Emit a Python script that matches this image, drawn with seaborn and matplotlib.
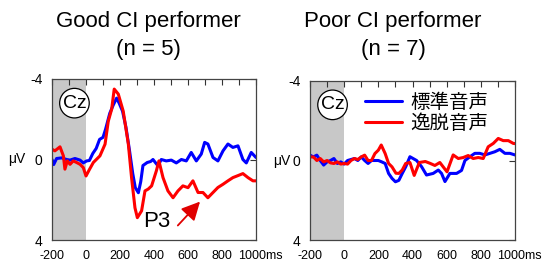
import matplotlib
matplotlib.use("Agg")
import matplotlib.pyplot as plt
import matplotlib.transforms as mtransforms
import pandas as pd
import seaborn as sns

# good CI performer (n = 5)
good_std_t = [-200, -190, -173, -143, -114, -94, -65, -35, -16, 4, 20, 40, 60, 80, 100, 115, 140, 160, 180, 195,
              215, 235, 255, 275, 290, 308, 322, 335, 360, 380, 394, 423, 443, 472, 502, 531, 561, 590, 619, 649,
              678, 698, 717, 747, 776, 806, 835, 864, 894, 923, 943, 972, 1000]
good_std_v = [0, 0.25, -0.05, -0.08, 0, 0.03, -0.05, 0.03, 0.17, 0.07, 0.05, -0.3, -0.55, -1.0, -1.1, -1.5, -2.3, -2.7, -3.05, -2.8,
              -2.4, -1.6, -0.5, 0.7, 1.4, 1.65, 1.1, 0.3, 0.15, 0.1, 0.0, 0.31, 0.0, 0.07, 0.03, 0.17, 0.0, 0.07, -0.35, 0.07,
              -0.27, -0.85, -0.77, -0.1, 0.07, -0.43, -0.77, -0.6, -0.68, 0, 0.17, -0.35, -0.1]
good_dev_t = [-200, -183, -153, -133, -124, -110, -94, -75, -55, -35, -16, 0, 20, 43, 82, 112, 131, 151, 166, 190,
              219, 249, 268, 288, 302, 327, 347, 366, 386, 414, 429, 453, 482, 512, 541, 570, 600, 629, 659, 688,
              717, 747, 776, 806, 835, 864, 894, 923, 953, 982, 1000]
good_dev_v = [-0.51, -0.43, -0.63, -0.18, 0.48, 0.07, 0.24, 0.07, 0.15, 0.24, 0.4, 0.82, 0.5, 0.15, -0.18, -0.76, -1.9, -2.5, -3.5, -3.25,
              -2.4, -0.77, 0.9, 2.4, 2.89, 2.55, 1.56, 1.47, 1.31, 0.56, 0.07, 0.9, 1.56, 1.9, 1.56, 1.31, 1.4, 1.06, 1.64, 1.64,
              1.9, 1.64, 1.39, 1.23, 1.06, 0.9, 0.8, 0.7, 0.9, 1.06, 1.06]

# poor CI performer (n = 7)
poor_std_t = [-200, -180, -160, -140, -120, -100, -80, -60, -40, -20, 0, 20, 40, 60, 80, 100, 120, 140, 160, 180,
              200, 220, 240, 260, 280, 300, 320, 340, 360, 385, 424, 453, 482, 521, 551, 570, 590, 619, 658, 687,
              707, 736, 765, 794, 824, 853, 882, 911, 941, 970, 1000]
poor_std_v = [-0.27, -0.18, -0.27, 0, 0.23, 0.07, 0, -0.1, 0.15, 0.07, 0.18, 0, -0.05, -0.1, 0, -0.18, 0, 0.15, 0, 0,
              0, 0.07, 0.15, 0.65, 0.9, 1.07, 1.0, 0.65, 0.32, -0.19, 0, 0.31, 0.73, 0.65, 0.48, 0.65, 1.06, 0.65, 0.65, 0.5,
              0, -0.19, -0.36, -0.36, -0.28, -0.36, -0.44, -0.56, -0.36, -0.36, -0.28]
poor_dev_t = [-200, -180, -160, -140, -120, -100, -80, -60, -40, -20, 0, 20, 40, 60, 80, 100, 120, 140, 160, 180,
              200, 217, 240, 260, 280, 303, 320, 340, 360, 385, 410, 440, 475, 502, 531, 560, 602, 638, 668, 697,
              726, 755, 785, 814, 843, 873, 902, 931, 961, 990, 1000]
poor_dev_v = [-0.18, -0.18, 0, -0.1, 0.07, 0, 0.12, 0.15, 0.07, 0.18, 0.15, 0.18, 0, -0.1, -0.05, -0.18, -0.27, 0, 0, -0.35,
              -0.52, -0.78, -0.35, 0.15, 0.32, 0.64, 0.65, 0.48, 0.15, 0.1, 0.75, 0.1, 0.05, 0.14, 0.25, 0.1, 0.57, -0.28, -0.1, -0.15,
              -0.25, -0.1, -0.15, -0.1, -0.69, -0.86, -1.11, -1.0, -1.0, -0.86, -0.85]

titles = ["Good CI performer", "Poor CI performer"]
group_n = ["(n = 5)", "(n = 7)"]
legend_labels = ["標準音声", "逸脱音声"]
xtick_vals = [-200, 0, 200, 400, 600, 800, 1000]
xtick_labels = ["-200", "0", "200", "400", "600", "800", "1000ms"]
ytick_vals = [-4, 0, 4]

sns.set_style("white")
plt.rcParams["font.family"] = ["Liberation Sans", "Noto Sans CJK JP", "DejaVu Sans"]
plt.rcParams["text.color"] = "black"
plt.rcParams["xtick.color"] = "black"
plt.rcParams["ytick.color"] = "black"

fig = plt.figure(figsize=(5.44, 2.68), dpi=100)
ax1 = fig.add_axes([52 / 544, 28 / 268, 204 / 544, 161 / 268])
ax2 = fig.add_axes([310 / 544, 28 / 268, 205 / 544, 159 / 268])

panels = [
    (ax1, good_std_t, good_std_v, good_dev_t, good_dev_v),
    (ax2, poor_std_t, poor_std_v, poor_dev_t, poor_dev_v),
]

for ax, st, sv, dt, dv in panels:
    ax.axvspan(-200, 0, color="#c8c8c8", lw=0, zorder=0)
    sns.lineplot(x=st, y=sv, ax=ax, color="#0000ff", lw=2.2, label=legend_labels[0], estimator=None)
    sns.lineplot(x=dt, y=dv, ax=ax, color="#ff0000", lw=2.2, label=legend_labels[1], estimator=None)
    ax.set_xlim(-200, 1000)
    ax.set_ylim(4, -4)
    ax.set_xticks(xtick_vals)
    ax.set_xticklabels(xtick_labels, fontsize=9)
    ax.set_xticks(range(-200, 1001, 100), minor=True)
    ax.set_yticks(ytick_vals)
    ax.set_yticklabels([str(v) for v in ytick_vals], fontsize=10)
    ax.tick_params(direction="in", top=True, right=True, length=4, width=0.8, color="#333333",
                   labelcolor="black", pad=7, which="both")
    ax.tick_params(which="minor", labelbottom=False)
    for s in ax.spines.values():
        s.set_color("#444444")
        s.set_linewidth(0.9)
    # nudge "1000ms" to the right so it doesn't crowd "800"
    last = ax.get_xticklabels()[-1]
    last.set_transform(last.get_transform() + mtransforms.ScaledTranslation(0.04, 0, fig.dpi_scale_trans))
    ax.set_xlabel("")
    ax.set_ylabel("")
    ax.text(0.11, 0.85, "Cz", transform=ax.transAxes, fontsize=14, ha="center", va="center",
            bbox=dict(boxstyle="circle,pad=0.15", fc="white", ec="black", lw=0.9))

ax1.get_legend().remove()
ax2.legend(loc="upper left", bbox_to_anchor=(0.27, 0.92), frameon=False, fontsize=14,
           handlelength=1.9, handletextpad=0.4, labelspacing=0.12, borderpad=0, borderaxespad=0)

ax1.text(-0.175, 0.5, "μV", transform=ax1.transAxes, fontsize=10, ha="center", va="center")
ax2.text(-0.14, 0.5, "μV", transform=ax2.transAxes, fontsize=10, ha="center", va="center")

# P3 marker
ax1.text(418, 3.08, "P3", fontsize=16, ha="center", va="center")
ax1.annotate("", xy=(682, 1.99), xytext=(529, 3.38),
             arrowprops=dict(arrowstyle="-|>", color="#e00000", lw=1.3, mutation_scale=28))

fig.text(148 / 544, 1 - 22 / 268, titles[0], fontsize=16, ha="center", va="center")
fig.text(148 / 544, 1 - 50 / 268, group_n[0], fontsize=16, ha="center", va="center")
fig.text(393 / 544, 1 - 22 / 268, titles[1], fontsize=16, ha="center", va="center")
fig.text(393 / 544, 1 - 50 / 268, group_n[1], fontsize=16, ha="center", va="center")

plt.savefig("out.png", dpi=100)
